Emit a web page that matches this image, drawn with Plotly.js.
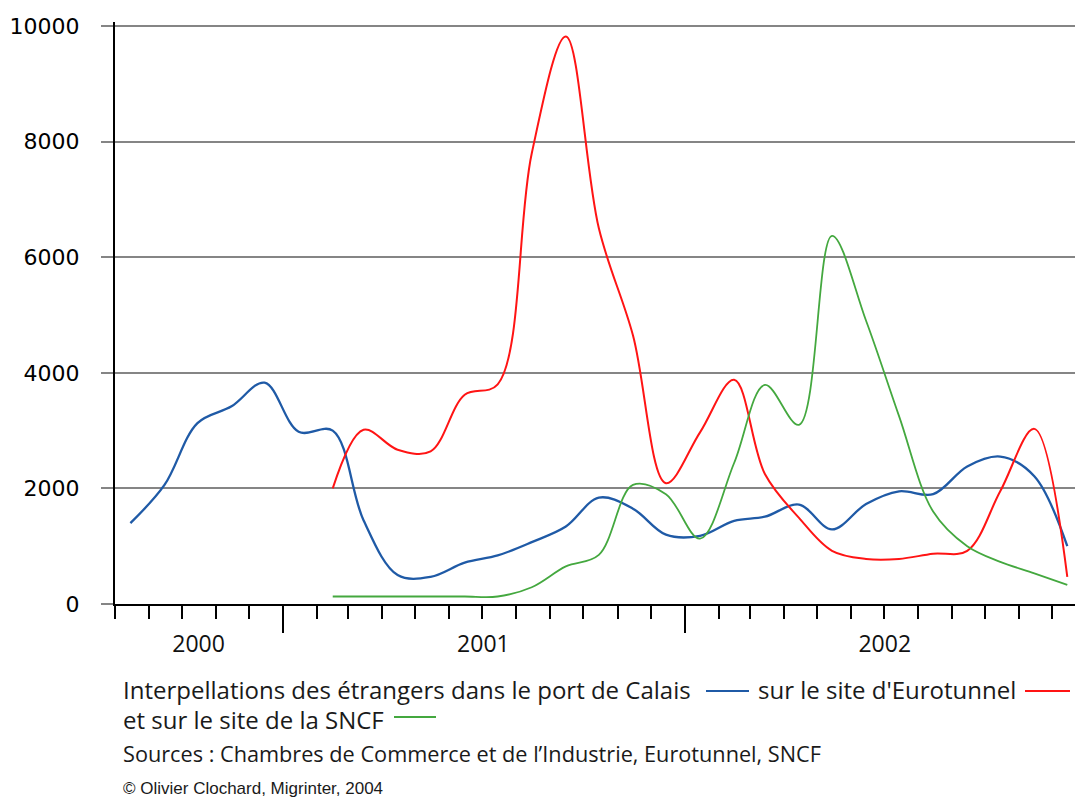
<!DOCTYPE html>
<html>
<head>
<meta charset="utf-8">
<script src="https://cdn.plot.ly/plotly-3.0.1.min.js"></script>
<style>
  html, body { margin: 0; padding: 0; background: #ffffff; }
  #chart { width: 1075px; height: 799px; }
</style>
</head>
<body>
<div id="chart"></div>
<script>
// ---- Data (monthly values) ----
const months = [
  '2000-08-15','2000-09-15','2000-10-15','2000-11-15','2000-12-15',
  '2001-01-15','2001-02-15','2001-03-15','2001-04-15','2001-05-15','2001-06-15',
  '2001-07-15','2001-08-15','2001-09-15','2001-10-15','2001-11-15','2001-12-15',
  '2002-01-15','2002-02-15','2002-03-15','2002-04-15','2002-05-15','2002-06-15',
  '2002-07-15','2002-08-15','2002-09-15','2002-10-15','2002-11-15','2002-12-15'
];
// Port de Calais (Aug 2000 - Dec 2002)
const calaisValues = [1400, 2060, 3130, 3420, 3830, 2980, 3000, 1450, 500, 470, 715, 840,
  1070, 1340, 1840, 1650, 1200, 1180, 1440, 1510, 1720, 1290, 1730, 1950, 1900, 2380, 2550, 2210, 1000];
// Eurotunnel (Feb 2001 - Dec 2002)
const eurotunnelMonths = months.slice(6);
const eurotunnelValues = [2000, 3015, 2670, 2640, 3620, 3800, 7800, 9820, 6500, 4650, 2090, 2970,
  3880, 2250, 1490, 920, 780, 780, 870, 920, 1950, 3030, 470];
// SNCF (Feb 2001 - Dec 2002)
const sncfMonths = months.slice(6);
const sncfValues = [130, 130, 130, 130, 130, 130, 290, 650, 850, 2060, 1900, 1130,
  2440, 3790, 3100, 6370, 4900, 3250, 1600, 1000, 730, 530, 330];

const yearLabels = ['2000', '2001', '2002'];
const yearLabelPos = ['2000-10-16', '2001-07-02', '2002-07-02'];
const yTicks = [0, 2000, 4000, 6000, 8000, 10000];
const yTickText = ['0', '2000', '4000', '6000', '8000', '10000'];

// ---- Styles ----
const BLUE = '#1f5aa6', RED = '#ff1414', GREEN = '#44a83f';
const GRID = '#858585';

// layout pixel helpers (plot area: x 115..1075, y 22..604)
const L = 115, R = 1075, T = 22, B = 604;
const pxX = x => (x - L) / (R - L);
const pxY = y => (B - y) / (B - T);

const traces = [
  { x: months, y: calaisValues, type: 'scatter', mode: 'lines',
    line: { color: BLUE, width: 2.3, shape: 'spline', smoothing: 1 }, name: 'Port de Calais' },
  { x: eurotunnelMonths, y: eurotunnelValues, type: 'scatter', mode: 'lines',
    line: { color: RED, width: 2, shape: 'spline', smoothing: 1 }, name: 'Eurotunnel' },
  { x: sncfMonths, y: sncfValues, type: 'scatter', mode: 'lines',
    line: { color: GREEN, width: 1.8, shape: 'spline', smoothing: 1 }, name: 'SNCF' },
  // empty helper trace so that the year-label axis (x2) is drawn
  { x: yearLabelPos, y: [null, null, null], xaxis: 'x2', yaxis: 'y', type: 'scatter',
    mode: 'lines', hoverinfo: 'skip', showlegend: false }
];

const xRange = ['2000-08-01', '2002-12-22'];
const legendFont = { family: 'Open Sans', size: 24, color: '#1a1a1a' };

const layout = {
  width: 1075, height: 799,
  margin: { l: L, r: 1075 - R, t: T, b: 799 - B, pad: 0 },
  paper_bgcolor: '#ffffff', plot_bgcolor: '#ffffff',
  showlegend: false,
  xaxis: {
    type: 'date', range: xRange,
    showgrid: false, zeroline: false,
    showline: true, linecolor: '#000', linewidth: 2,
    tick0: '2001-01-01', dtick: 'M12',
    ticks: 'outside', ticklen: 27, tickwidth: 2, tickcolor: '#000',
    showticklabels: false,
    minor: { tick0: '2000-08-01', dtick: 'M1', ticks: 'outside', ticklen: 13,
             tickwidth: 2, tickcolor: '#000', showgrid: false }
  },
  xaxis2: {
    type: 'date', range: xRange, overlaying: 'x', anchor: 'y', side: 'bottom',
    showgrid: false, zeroline: false, showline: false,
    tickmode: 'array', tickvals: yearLabelPos, ticktext: yearLabels,
    ticks: '', ticklabelstandoff: 24,
    tickfont: { family: 'Open Sans', size: 23, color: '#111' }
  },
  yaxis: {
    range: [0, 10070],
    tickmode: 'array', tickvals: yTicks, ticktext: yTickText,
    showgrid: true, gridcolor: GRID, gridwidth: 2,
    zeroline: false,
    showline: true, linecolor: '#000', linewidth: 2,
    ticks: 'outside', ticklen: 12, tickwidth: 2, tickcolor: GRID,
    ticklabelstandoff: 17,
    tickfont: { family: 'DejaVu Sans', size: 22, color: '#000' }
  },
  annotations: [
    { text: 'Interpellations des étrangers dans le port de Calais', x: pxX(121), y: pxY(689),
      xref: 'paper', yref: 'paper', xanchor: 'left', yanchor: 'middle', showarrow: false, font: legendFont },
    { text: "sur le site d'Eurotunnel", x: pxX(756), y: pxY(689),
      xref: 'paper', yref: 'paper', xanchor: 'left', yanchor: 'middle', showarrow: false, font: legendFont },
    { text: 'et sur le site de la SNCF', x: pxX(121), y: pxY(719),
      xref: 'paper', yref: 'paper', xanchor: 'left', yanchor: 'middle', showarrow: false, font: legendFont },
    { text: 'Sources : Chambres de Commerce et de l’Industrie, Eurotunnel, SNCF', x: pxX(121), y: pxY(753),
      xref: 'paper', yref: 'paper', xanchor: 'left', yanchor: 'middle', showarrow: false,
      font: { family: 'Open Sans', size: 21.7, color: '#1a1a1a' } },
    { text: '© Olivier Clochard, Migrinter, 2004', x: pxX(121), y: pxY(788),
      xref: 'paper', yref: 'paper', xanchor: 'left', yanchor: 'middle', showarrow: false,
      font: { family: 'Liberation Sans', size: 17, color: '#1a1a1a' } }
  ],
  shapes: [
    { type: 'line', xref: 'paper', yref: 'paper', x0: pxX(706), x1: pxX(749), y0: pxY(691), y1: pxY(691),
      line: { color: BLUE, width: 2 } },
    { type: 'line', xref: 'paper', yref: 'paper', x0: pxX(1025), x1: pxX(1070), y0: pxY(691), y1: pxY(691),
      line: { color: RED, width: 2 } },
    { type: 'line', xref: 'paper', yref: 'paper', x0: pxX(394), x1: pxX(436), y0: pxY(717), y1: pxY(717),
      line: { color: GREEN, width: 2 } }
  ]
};

Plotly.newPlot('chart', traces, layout, { staticPlot: true, displayModeBar: false });
</script>
</body>
</html>
